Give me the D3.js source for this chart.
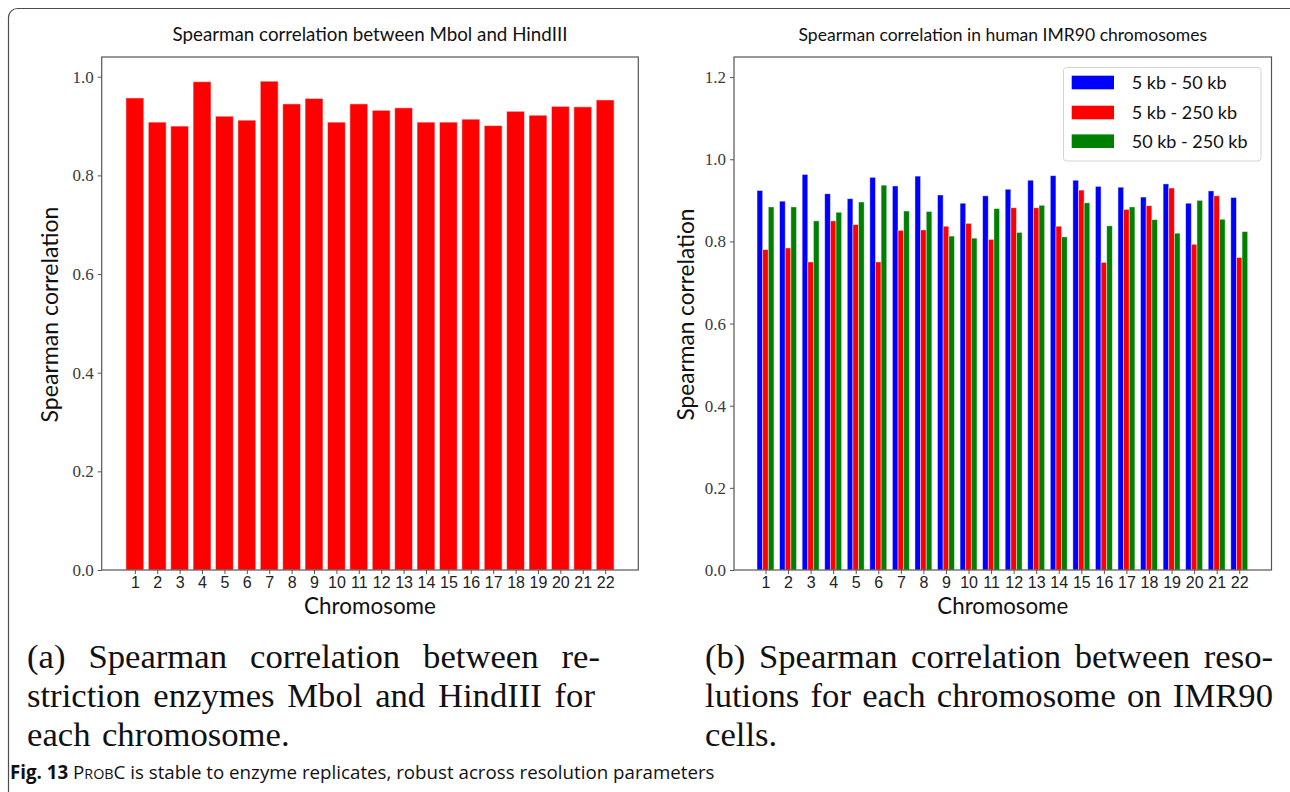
<!DOCTYPE html>
<html>
<head>
<meta charset="utf-8">
<script src="https://cdn.jsdelivr.net/npm/d3@7/dist/d3.min.js"></script>
<style>
  html, body { margin: 0; padding: 0; background: #fff; }
  svg { display: block; }
</style>
</head>
<body>
<svg id="fig" width="1290" height="792"></svg>
<script>
// Chromosome categories (shared by both panels)
const chromosomes = ["1","2","3","4","5","6","7","8","9","10","11","12","13","14","15","16","17","18","19","20","21","22"];

// Panel (a): Spearman correlation between MboI and HindIII per chromosome
const mboiHindiii = [0.957, 0.908, 0.900, 0.990, 0.920, 0.912, 0.991, 0.945, 0.956, 0.908, 0.945,
                     0.932, 0.937, 0.908, 0.908, 0.914, 0.901, 0.930, 0.922, 0.940, 0.939, 0.953];

// Panel (b): Spearman correlation between resolutions on IMR90
const res5to50   = [0.924, 0.898, 0.963, 0.916, 0.904, 0.956, 0.935, 0.959, 0.913, 0.893, 0.911,
                    0.927, 0.949, 0.960, 0.949, 0.934, 0.932, 0.908, 0.940, 0.893, 0.923, 0.907];
const res5to250  = [0.780, 0.784, 0.750, 0.850, 0.841, 0.750, 0.827, 0.828, 0.837, 0.844, 0.805,
                    0.882, 0.882, 0.837, 0.925, 0.749, 0.878, 0.887, 0.930, 0.793, 0.911, 0.761];
const res50to250 = [0.884, 0.884, 0.850, 0.871, 0.896, 0.937, 0.874, 0.873, 0.813, 0.808, 0.880,
                    0.822, 0.888, 0.811, 0.894, 0.838, 0.884, 0.853, 0.820, 0.900, 0.854, 0.824];

const seriesNames  = ["5 kb - 50 kb", "5 kb - 250 kb", "50 kb - 250 kb"];
const seriesColors = ["#0000ff", "#ff0000", "#008000"];
const seriesValues = [res5to50, res5to250, res50to250];

const yTicksA = [0.0, 0.2, 0.4, 0.6, 0.8, 1.0];
const yTicksB = [0.0, 0.2, 0.4, 0.6, 0.8, 1.0, 1.2];

const SANS  = "Lato, 'Open Sans', sans-serif";
const SERIF = "'Liberation Serif', 'DejaVu Serif', serif";
const SPINE = "#555";

const svg = d3.select("#fig");

// Outer figure frame (rounded, running off the right and bottom edges)
svg.append("rect")
  .attr("x", 8.5).attr("y", 8.5).attr("width", 1320).attr("height", 820)
  .attr("rx", 9).attr("fill", "none").attr("stroke", "#4d4d4d").attr("stroke-width", 1.2);

// Resize a text element so that its rendered width equals a target width
function fitWidth(sel, target) {
  const w = sel.node().getComputedTextLength();
  const fs = parseFloat(sel.attr("font-size"));
  sel.attr("font-size", fs * target / w);
  return sel;
}

function drawAxes(g, x, y, yTicks, box) {
  const chromoPos = chromosomes.map((c, i) => i + 1);

  // y axis
  const yAxis = d3.axisLeft(y).tickValues(yTicks).tickFormat(d3.format(".1f")).tickSize(4).tickPadding(4);
  const ya = g.append("g").attr("transform", `translate(${box.x0},0)`).call(yAxis);
  ya.select(".domain").remove();
  ya.selectAll(".tick line").attr("stroke", SPINE);
  ya.selectAll(".tick text").attr("font-family", SERIF).attr("font-size", 17).attr("fill", "#3a3a3a");

  // x axis
  const xAxis = d3.axisBottom(x).tickValues(chromoPos).tickFormat(d => chromosomes[d - 1]).tickSize(4).tickPadding(3);
  const xa = g.append("g").attr("transform", `translate(0,${box.y1})`).call(xAxis);
  xa.select(".domain").remove();
  xa.selectAll(".tick line").attr("stroke", SPINE);
  xa.selectAll(".tick text").attr("font-family", "'Liberation Sans', Arial, sans-serif")
    .attr("font-size", 16).attr("fill", "#222");
}

function drawSpines(g, box) {
  g.append("rect")
    .attr("x", box.x0).attr("y", box.y0)
    .attr("width", box.x1 - box.x0).attr("height", box.y1 - box.y0)
    .attr("fill", "none").attr("stroke", SPINE).attr("stroke-width", 1.2);
}

function labels(g, box, title, titleW, ylabX, ylabLen, xlabW) {
  const cx = (box.x0 + box.x1) / 2;
  const t = g.append("text").attr("x", cx).attr("y", 41).attr("text-anchor", "middle")
    .attr("font-family", SANS).attr("font-size", 16).attr("fill", "#111").text(title);
  fitWidth(t, titleW);

  const cy = (box.y0 + box.y1) / 2 + 1;
  const yl = g.append("text").attr("transform", `translate(${ylabX},${cy}) rotate(-90)`)
    .attr("text-anchor", "middle").attr("font-family", SANS).attr("font-size", 22).attr("fill", "#111")
    .text("Spearman correlation");
  fitWidth(yl, ylabLen);

  const xl = g.append("text").attr("x", cx).attr("y", 614).attr("text-anchor", "middle")
    .attr("font-family", SANS).attr("font-size", 22).attr("fill", "#111").text("Chromosome");
  fitWidth(xl, xlabW);
}

// ---------- Panel (a) ----------
{
  const box = { x0: 101.7, x1: 638.3, y0: 57, y1: 570 };
  const x = d3.scaleLinear().domain([-0.48, 23.48]).range([box.x0, box.x1]);
  const y = d3.scaleLinear().domain([0, 1.04]).range([box.y1, box.y0]);
  const g = svg.append("g");
  const bw = x(0.8) - x(0);

  g.selectAll("rect.bar").data(mboiHindiii).enter().append("rect")
    .attr("class", "bar")
    .attr("x", (d, i) => x(i + 1) - bw / 2)
    .attr("y", d => y(d))
    .attr("width", bw)
    .attr("height", d => y(0) - y(d))
    .attr("fill", "#ff0000")
    .attr("stroke", "#ffffff").attr("stroke-opacity", 0.55).attr("stroke-width", 1);

  drawAxes(g, x, y, yTicksA, box);
  drawSpines(g, box);
  labels(g, box, "Spearman correlation between Mbol and HindIII", 395, 58, 216, 132);
}

// ---------- Panel (b) ----------
{
  const box = { x0: 734, x1: 1271.5, y0: 57, y1: 570 };
  const x = d3.scaleLinear().domain([-0.396, 23.43]).range([box.x0, box.x1]);
  const y = d3.scaleLinear().domain([0, 1.249]).range([box.y1, box.y0]);
  const g = svg.append("g");
  const bw = x(0.25) - x(0);
  const offsets = [-0.25, 0, 0.25];

  seriesValues.forEach((vals, s) => {
    g.selectAll(`rect.s${s}`).data(vals).enter().append("rect")
      .attr("class", `s${s}`)
      .attr("x", (d, i) => x(i + 1 + offsets[s]) - bw / 2)
      .attr("y", d => y(d))
      .attr("width", bw)
      .attr("height", d => y(0) - y(d))
      .attr("fill", seriesColors[s])
      .attr("stroke", "#ffffff").attr("stroke-opacity", 0.55).attr("stroke-width", 0.8);
  });

  drawAxes(g, x, y, yTicksB, box);
  drawSpines(g, box);
  labels(g, box, "Spearman correlation in human IMR90 chromosomes", 409, 694, 212, 131);

  // Legend
  const lg = g.append("g");
  lg.append("rect").attr("x", 1063.5).attr("y", 67.5).attr("width", 197.5).attr("height", 93.5)
    .attr("rx", 3).attr("fill", "#fff").attr("fill-opacity", 0.85)
    .attr("stroke", "#d4d4d4").attr("stroke-width", 1);
  const rowY = [82.5, 112.5, 141.2];
  seriesNames.forEach((name, s) => {
    lg.append("rect").attr("x", 1071.7).attr("y", rowY[s] - 6.8).attr("width", 42.3).attr("height", 13.6)
      .attr("fill", seriesColors[s]);
    lg.append("text").attr("x", 1131.7).attr("y", rowY[s] + 6.3)
      .attr("font-family", SANS).attr("font-size", 18).attr("fill", "#111").text(name);
  });
}

// ---------- Sub-figure captions (justified serif text) ----------
function justifiedLine(words, x0, x1, yBase, fs, justify) {
  const g = svg.append("g");
  const nodes = words.map(w => g.append("text").attr("y", yBase)
    .attr("font-family", SERIF).attr("font-size", fs).attr("fill", "#111").text(w));
  const widths = nodes.map(n => n.node().getComputedTextLength());
  const total = d3.sum(widths);
  const space = fs * 0.33;
  const gap = justify && words.length > 1 ? (x1 - x0 - total) / (words.length - 1) : space;
  let cx = x0;
  nodes.forEach((n, i) => { n.attr("x", cx); cx += widths[i] + gap; });
}

// caption size from the short last line of (a)
const probe = svg.append("text").attr("font-family", SERIF).attr("font-size", 30).text("each chromosome.");
const capFs = 30 * 260 / probe.node().getComputedTextLength();
probe.remove();

const capA = [
  ["(a)", "Spearman", "correlation", "between", "re-"],
  ["striction", "enzymes", "Mbol", "and", "HindIII", "for"],
  ["each", "chromosome."]
];
const capB = [
  ["(b)", "Spearman", "correlation", "between", "reso-"],
  ["lutions", "for", "each", "chromosome", "on", "IMR90"],
  ["cells."]
];
const capBase = [668, 707, 746];
capA.forEach((ws, i) => justifiedLine(ws, 27, i === 0 ? 600 : 595, capBase[i], capFs, i < 2));
capB.forEach((ws, i) => justifiedLine(ws, 705, 1273, capBase[i], capFs, i < 2));

// ---------- Figure caption ----------
{
  const FIG_FONT = "'Open Sans', 'Noto Sans', sans-serif";
  const t = svg.append("text").attr("x", 10).attr("y", 779)
    .attr("font-family", FIG_FONT).attr("font-size", 15).attr("fill", "#111");
  t.append("tspan").attr("font-weight", "bold").text("Fig. 13");
  t.append("tspan").text(" P");
  t.append("tspan").attr("font-size", 11.5).text("ROB");
  t.append("tspan").text("C is stable to enzyme replicates, robust across resolution parameters");
  const w = t.node().getComputedTextLength();
  const k = 705 / w;
  t.attr("font-size", 15 * k);
  t.select("tspan:nth-child(3)").attr("font-size", 11.5 * k);
  t.attr("letter-spacing", null);
}
</script>
</body>
</html>
